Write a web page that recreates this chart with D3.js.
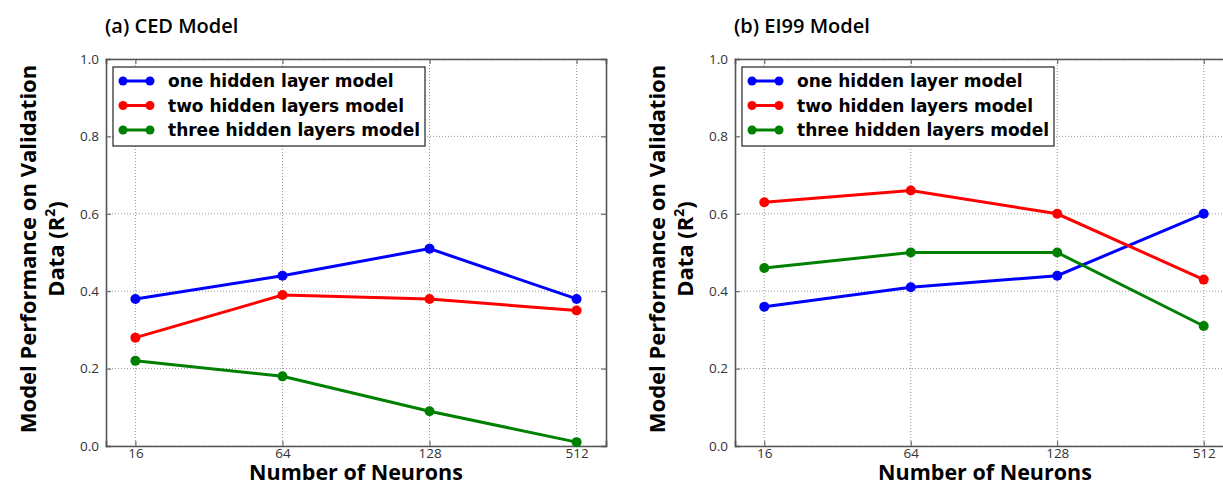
<!DOCTYPE html>
<html>
<head>
<meta charset="utf-8">
<script src="https://cdn.jsdelivr.net/npm/d3@7"></script>
<style>
  body { margin: 0; background: #fff; }
  svg { display: block; }
</style>
</head>
<body>
<svg id="chart" width="1223" height="486"></svg>
<script>
// values
const neurons = ['16', '64', '128', '512'];
const yTicks = [0.0, 0.2, 0.4, 0.6, 0.8, 1.0];
const seriesNames = ['one hidden layer model', 'two hidden layers model', 'three hidden layers model'];
const seriesColors = ['#0000ff', '#ff0000', '#008000'];

const cedOne = [0.38, 0.44, 0.51, 0.38];
const cedTwo = [0.28, 0.39, 0.38, 0.35];
const cedThree = [0.22, 0.18, 0.09, 0.01];

const ei99One = [0.36, 0.41, 0.44, 0.60];
const ei99Two = [0.63, 0.66, 0.60, 0.43];
const ei99Three = [0.46, 0.50, 0.50, 0.31];

const svg = d3.select('#chart');

function drawPanel(opts) {
  const w = opts.width, h = 387;
  const g = svg.append('g').attr('transform', 'translate(' + opts.left + ',59)');

  const x = d3.scaleLinear().domain([-0.2, 3.2]).range([0, w]);
  const y = d3.scaleLinear().domain([0, 1]).range([h, 0]);
  const idx = d3.range(neurons.length);

  // dotted grid
  g.append('g').selectAll('line.gx').data(idx).enter().append('line')
      .attr('x1', d => x(d)).attr('x2', d => x(d))
      .attr('y1', 0).attr('y2', h)
      .attr('stroke', '#9a9a9a').attr('stroke-dasharray', '1,2');
  g.append('g').selectAll('line.gy').data(yTicks).enter().append('line')
      .attr('x1', 0).attr('x2', w)
      .attr('y1', d => y(d)).attr('y2', d => y(d))
      .attr('stroke', '#9a9a9a').attr('stroke-dasharray', '1,2');

  // axes, ticks pointing inward like matplotlib classic
  g.append('g').attr('transform', 'translate(0,' + h + ')')
      .call(d3.axisBottom(x).tickValues(idx).tickFormat(i => neurons[i]).tickSize(-5).tickPadding(2));
  g.append('g')
      .call(d3.axisLeft(y).tickValues(yTicks).tickFormat(d3.format('.1f')).tickSize(-5).tickPadding(7));
  g.append('g')
      .call(d3.axisTop(x).tickValues(idx).tickFormat('').tickSize(-5));
  g.append('g').attr('transform', 'translate(' + w + ',0)')
      .call(d3.axisRight(y).tickValues(yTicks).tickFormat('').tickSize(-5));

  g.selectAll('.domain').attr('stroke', '#555').attr('stroke-width', 1.6);
  g.selectAll('.tick line').attr('stroke', '#555');
  g.selectAll('.tick text')
      .attr('font-family', 'Open Sans, sans-serif')
      .attr('font-size', 13.5)
      .attr('fill', '#333');

  // series
  const line = d3.line().x((d, i) => x(i)).y(d => y(d));
  opts.series.forEach((vals, k) => {
    g.append('path').datum(vals)
        .attr('d', line)
        .attr('fill', 'none')
        .attr('stroke', seriesColors[k])
        .attr('stroke-width', 3);
    g.append('g').selectAll('circle').data(vals).enter().append('circle')
        .attr('cx', (d, i) => x(i))
        .attr('cy', d => y(d))
        .attr('r', 5)
        .attr('fill', seriesColors[k]);
  });

  // legend
  const lg = g.append('g').attr('transform', 'translate(7,8)');
  lg.append('rect')
      .attr('width', 312).attr('height', 79)
      .attr('fill', '#fff').attr('stroke', '#222').attr('stroke-width', 1.2);
  seriesNames.forEach((name, k) => {
    const row = lg.append('g').attr('transform', 'translate(0,' + (14 + k * 24.5) + ')');
    row.append('line')
        .attr('x1', 10).attr('x2', 37)
        .attr('stroke', seriesColors[k]).attr('stroke-width', 3);
    row.append('circle').attr('cx', 10).attr('r', 4.5).attr('fill', seriesColors[k]);
    row.append('circle').attr('cx', 37).attr('r', 4.5).attr('fill', seriesColors[k]);
    row.append('text')
        .attr('x', 55).attr('dy', '0.36em')
        .attr('font-family', 'DejaVu Sans, sans-serif')
        .attr('font-weight', 'bold')
        .attr('font-size', 17)
        .text(name);
  });

  // titles and labels
  g.append('text')
      .attr('x', -1).attr('y', -26)
      .attr('font-family', 'Open Sans, sans-serif')
      .attr('font-weight', 600)
      .attr('font-size', 20)
      .text(opts.title);

  g.append('text')
      .attr('x', 250).attr('y', h + 34)
      .attr('text-anchor', 'middle')
      .attr('font-family', 'Open Sans, sans-serif')
      .attr('font-weight', 'bold')
      .attr('font-size', 21.5)
      .text('Number of Neurons');

  const yl = g.append('text')
      .attr('transform', 'translate(' + (-78) + ',' + 190 + ') rotate(-90)')
      .attr('text-anchor', 'middle')
      .attr('font-family', 'Open Sans, sans-serif')
      .attr('font-weight', 'bold')
      .attr('font-size', 22);
  yl.append('tspan').attr('x', 0).attr('dy', '0.35em').text('Model Performance on Validation');
  const l2 = yl.append('tspan').attr('x', 0).attr('dy', '1.27em').text('Data (R');
  l2.append('tspan').attr('baseline-shift', 'super').attr('font-size', 14).text('2');
  l2.append('tspan').text(')');
}

drawPanel({ left: 106, width: 500, title: '(a) CED Model', series: [cedOne, cedTwo, cedThree] });
drawPanel({ left: 735, width: 498, title: '(b) EI99 Model', series: [ei99One, ei99Two, ei99Three] });
</script>
</body>
</html>
